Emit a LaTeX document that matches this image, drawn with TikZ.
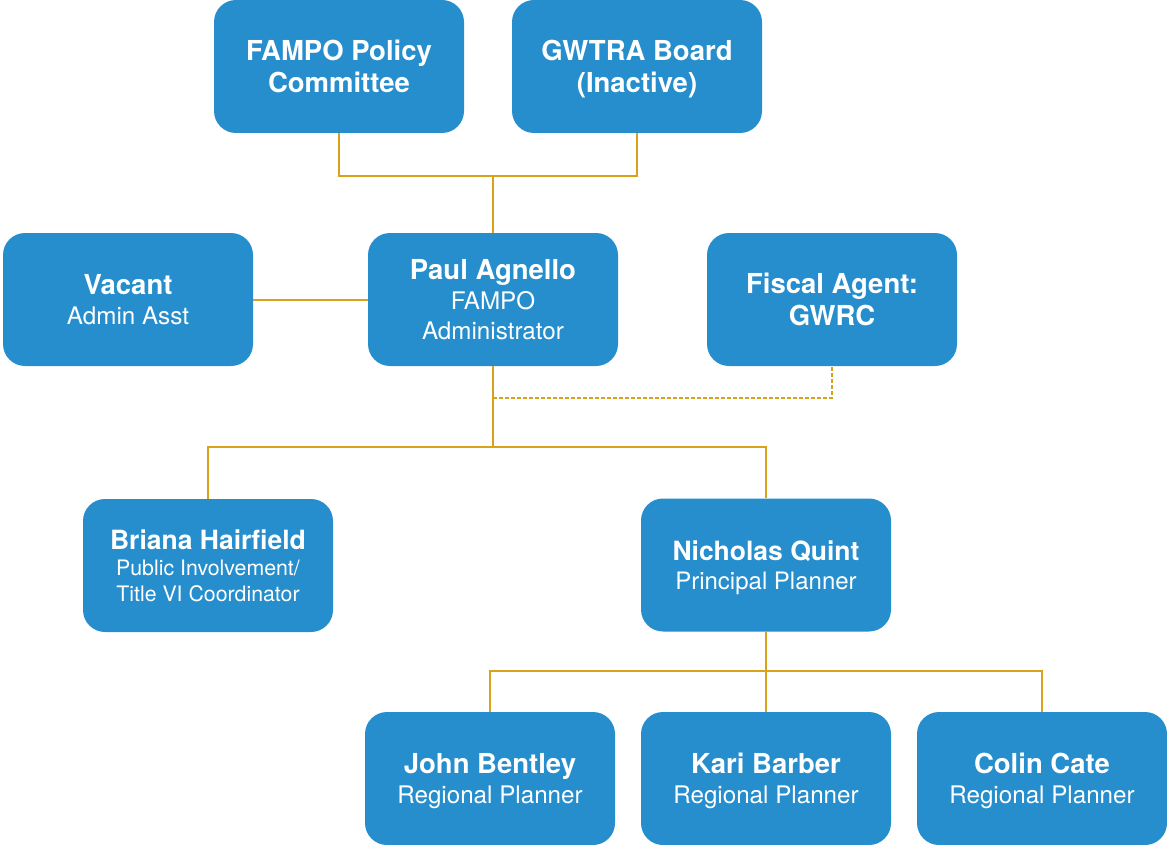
\documentclass[tikz,border=0pt]{standalone}
\usepackage{fontspec}
\setmainfont{TeX Gyre Heros}
\definecolor{boxblue}{HTML}{268ECD}
\definecolor{gold}{HTML}{D9A21B}
\newcommand\hd[1]{{\fontsize{27.5}{30}\selectfont\bfseries #1}}
\newcommand\hdsm[1]{{\fontsize{26.5}{30}\selectfont\bfseries #1}}
\begin{document}
\begin{tikzpicture}[x=1pt,y=-1pt,
  box/.style={fill=boxblue, rounded corners=22pt, minimum width=250pt, minimum height=133pt,
    inner sep=0pt, align=center, text=white, text depth=0pt, font=\fontsize{24.2}{30}\selectfont},
  bigbox/.style={box, font=\fontsize{27.5}{32.5}\selectfont\bfseries},
  link/.style={draw=gold, line width=2pt},
  dlink/.style={link, dash pattern=on 4pt off 2pt}]
\useasboundingbox (0,0) rectangle (1167,845);

\node[bigbox] (fampo) at (339,66.5) {FAMPO Policy\\Committee};
\node[bigbox] (gwtra) at (637,66.5) {GWTRA Board\\(Inactive)};
\node[box] (vacant) at (128,299.5) {\hd{Vacant}\\Admin Asst};
\node[box] (paul) at (493,299.5) {\hd{Paul Agnello}\\FAMPO\\Administrator};
\node[bigbox] (fiscal) at (832,299.5) {Fiscal Agent:\\GWRC};
\node[box, font=\fontsize{21.3}{26}\selectfont] (briana) at (208,565.5) {\hdsm{Briana Hairfield}\\Public Involvement/\\Title VI Coordinator};
\node[box, font=\fontsize{24}{29}\selectfont] (nicholas) at (766,565) {\hdsm{Nicholas Quint}\\Principal Planner};
\node[box] (john) at (490,778.5) {\hd{John Bentley}\\Regional Planner};
\node[box] (kari) at (766,778.5) {\hd{Kari Barber}\\Regional Planner};
\node[box] (colin) at (1042,778.5) {\hd{Colin Cate}\\Regional Planner};

\coordinate (tj) at (493,176);
\coordinate (mj) at (493,447);
\coordinate (dj) at (493,398);
\coordinate (nj) at (766,671);

\draw[link] (fampo.south) |- (tj) -| (gwtra.south);
\draw[link] (tj) -- (paul.north);
\draw[link] (vacant.east) -- (paul.west);
\draw[link] (paul.south) -- (mj);
\draw[link] (briana.north) |- (mj) -| (nicholas.north);
\draw[dlink] (dj) -| (fiscal.south);
\draw[link] (nicholas.south) -- (kari.north);
\draw[link] (john.north) |- (nj) -| (colin.north);
\end{tikzpicture}
\end{document}
